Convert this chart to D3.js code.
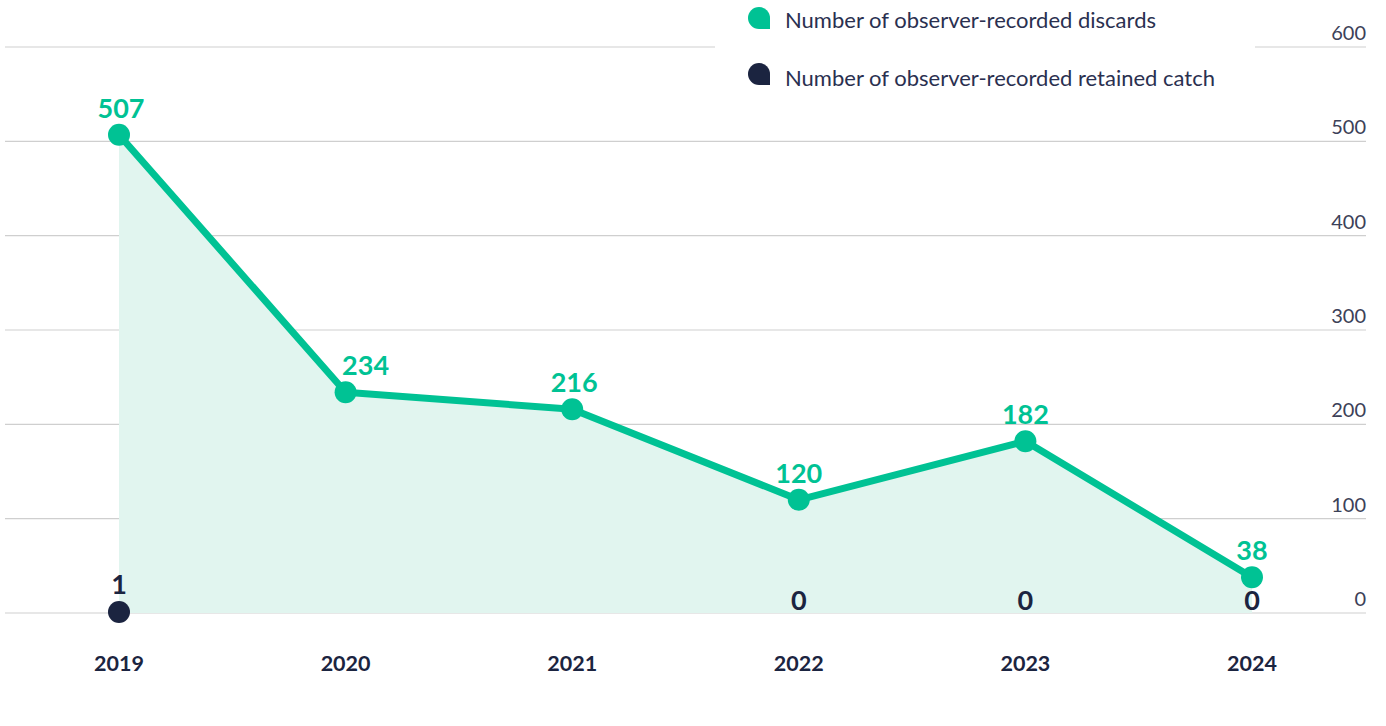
<!DOCTYPE html>
<html>
<head>
<meta charset="utf-8">
<script src="https://cdn.jsdelivr.net/npm/d3@7"></script>
<style>
  body { margin: 0; background: #fff; }
  svg { display: block; font-family: Lato, "Open Sans", sans-serif; }
</style>
</head>
<body>
<svg></svg>
<script>
const width = 1386;
const height = 726;

// Data
const years = ["2019", "2020", "2021", "2022", "2023", "2024"];
const discards = [507, 234, 216, 120, 182, 38];
const retained = [1, null, null, 0, 0, 0];
const yTicks = [0, 100, 200, 300, 400, 500, 600];
const legendLabels = ["Number of observer-recorded discards", "Number of observer-recorded retained catch"];

const teal = "#00c294";
const navy = "#1b2440";
const areaFill = "#e1f5ef";

const svg = d3.select("svg")
  .attr("width", width)
  .attr("height", height);

const x = d3.scalePoint()
  .domain(years)
  .range([119, 1252]);

const y = d3.scaleLinear()
  .domain([0, 600])
  .range([613, 47]);

// Grid + y labels (right side)
const grid = svg.append("g");
grid.selectAll("line")
  .data(yTicks)
  .join("line")
  .attr("x1", 5)
  .attr("x2", 1366)
  .attr("y1", d => y(d))
  .attr("y2", d => y(d))
  .attr("stroke", "#cfcfcf")
  .attr("stroke-width", 1.2);

grid.selectAll("text")
  .data(yTicks)
  .join("text")
  .attr("x", 1366)
  .attr("y", d => y(d) - 7)
  .attr("text-anchor", "end")
  .attr("font-size", 20)
  .attr("fill", "#3c4158")
  .text(d => d);

// Area under discards
const rows = years.map((yr, i) => ({ year: yr, d: discards[i], r: retained[i] }));

svg.append("path")
  .datum(rows)
  .attr("fill", areaFill)
  .attr("d", d3.area()
    .x(d => x(d.year))
    .y0(y(0))
    .y1(d => y(d.d)));

// Legend box (covers the gridline)
const legend = svg.append("g");
legend.append("rect")
  .attr("x", 715)
  .attr("y", 0)
  .attr("width", 540)
  .attr("height", 100)
  .attr("fill", "#fff");

const legendItem = legend.selectAll("g.item")
  .data(legendLabels)
  .join("g")
  .attr("class", "item")
  .attr("transform", (d, i) => `translate(748, ${7 + i * 56})`);

legendItem.append("path")
  .attr("d", "M0,11 A11,11 0 0 1 22,11 L22,22 L11,22 A11,11 0 0 1 0,11 Z")
  .attr("fill", (d, i) => i === 0 ? teal : navy);

legendItem.append("text")
  .attr("x", 37)
  .attr("y", (d, i) => 21 + i * 2)
  .attr("font-size", 22)
  .attr("fill", "#2a3050")
  .text(d => d);

// Discards line
svg.append("path")
  .datum(rows)
  .attr("fill", "none")
  .attr("stroke", teal)
  .attr("stroke-width", 7)
  .attr("stroke-linejoin", "round")
  .attr("d", d3.line()
    .x(d => x(d.year))
    .y(d => y(d.d)));

svg.append("g")
  .selectAll("circle")
  .data(rows)
  .join("circle")
  .attr("cx", d => x(d.year))
  .attr("cy", d => y(d.d))
  .attr("r", 11)
  .attr("fill", teal);

// label nudges so text clears the line
const labelShift = { "2019": 2, "2020": 20, "2021": 2 };

svg.append("g")
  .selectAll("text")
  .data(rows)
  .join("text")
  .attr("x", d => x(d.year) + (labelShift[d.year] || 0))
  .attr("y", d => y(d.d) - 17)
  .attr("text-anchor", "middle")
  .attr("font-size", 27)
  .attr("font-weight", 700)
  .attr("fill", teal)
  .text(d => d.d);

// Retained catch
const ret = rows.filter(d => d.r !== null);

svg.append("g")
  .selectAll("circle")
  .data(ret.filter(d => d.r > 0))
  .join("circle")
  .attr("cx", d => x(d.year))
  .attr("cy", d => y(d.r))
  .attr("r", 11)
  .attr("fill", navy);

svg.append("g")
  .selectAll("text")
  .data(ret)
  .join("text")
  .attr("x", d => x(d.year))
  .attr("y", d => y(d.r) - (d.r > 0 ? 18 : 3))
  .attr("text-anchor", "middle")
  .attr("font-size", 27)
  .attr("font-weight", 700)
  .attr("fill", navy)
  .text(d => d.r);

// X axis labels
svg.append("g")
  .selectAll("text")
  .data(years)
  .join("text")
  .attr("x", d => x(d))
  .attr("y", 671)
  .attr("text-anchor", "middle")
  .attr("font-size", 21.5)
  .attr("font-weight", 700)
  .attr("fill", navy)
  .text(d => d);
</script>
</body>
</html>
